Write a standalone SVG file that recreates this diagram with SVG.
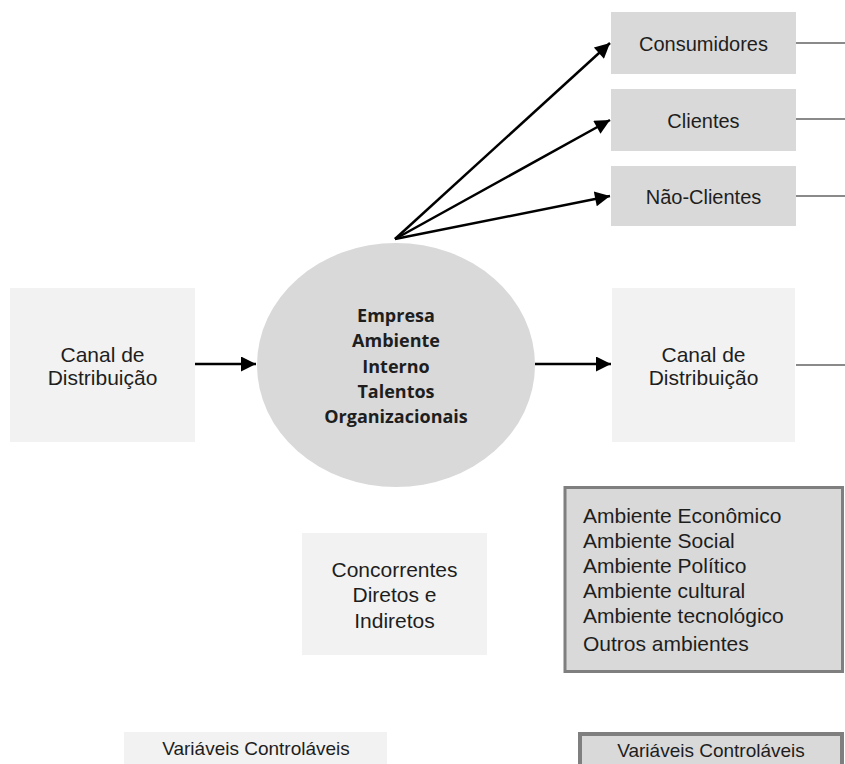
<svg xmlns="http://www.w3.org/2000/svg" width="845" height="764" viewBox="0 0 845 764">
<style>
.t{font-family:"Liberation Sans",Arial,sans-serif;font-size:20px;fill:#1e1e1e;text-anchor:middle}
.tl{font-family:"Liberation Sans",Arial,sans-serif;font-size:21px;fill:#1e1e1e}
.b{font-family:"Open Sans","DejaVu Sans",sans-serif;font-weight:bold;font-size:18px;fill:#1e1e1e;text-anchor:middle}
.light{fill:#f2f2f2}
.mid{fill:#d9d9d9}
.arr{stroke:#000;stroke-width:2.5;fill:none;marker-end:url(#ah)}
.gl{stroke:#8a8a8a;stroke-width:2;fill:none}
</style>
<defs>
<marker id="ah" viewBox="0 0 10 10" refX="10" refY="5" markerWidth="7" markerHeight="6" markerUnits="strokeWidth" orient="auto">
<path d="M0,0 L10,5 L0,10 z" fill="#000"/>
</marker>
</defs>
<rect width="845" height="764" fill="#fff"/>
<g id="connectors">
<line class="arr" x1="395" y1="239" x2="610" y2="43"/>
<line class="arr" x1="395" y1="239" x2="610" y2="120"/>
<line class="arr" x1="395" y1="239" x2="610" y2="196"/>
<line class="arr" x1="195" y1="364" x2="256" y2="364"/>
<line class="arr" x1="535" y1="364" x2="611" y2="364"/>
<line class="gl" x1="796" y1="43" x2="845" y2="43"/>
<line class="gl" x1="796" y1="119" x2="845" y2="119"/>
<line class="gl" x1="796" y1="196" x2="845" y2="196"/>
<line class="gl" x1="796" y1="365" x2="845" y2="365"/>
</g>
<g id="consumidores">
<rect class="mid" x="611" y="12" width="185" height="62"/>
<text class="t" x="703.5" y="51">Consumidores</text>
</g>
<g id="clientes">
<rect class="mid" x="611" y="89" width="185" height="62"/>
<text class="t" x="703.5" y="128">Clientes</text>
</g>
<g id="nao-clientes">
<rect class="mid" x="611" y="166" width="185" height="60"/>
<text class="t" x="703.5" y="204">Não-Clientes</text>
</g>
<g id="canal-esq">
<rect class="light" x="10" y="288" width="185" height="154"/>
<text class="t" x="102.5" y="362" style="font-size:21px">Canal de</text>
<text class="t" x="102.5" y="385" style="font-size:21px">Distribuição</text>
</g>
<g id="empresa">
<ellipse class="mid" cx="396" cy="365" rx="139" ry="122"/>
<text class="b" x="396" y="322">Empresa</text>
<text class="b" x="396" y="347">Ambiente</text>
<text class="b" x="396" y="373">Interno</text>
<text class="b" x="396" y="398">Talentos</text>
<text class="b" x="396" y="423">Organizacionais</text>
</g>
<g id="canal-dir">
<rect class="light" x="612" y="288" width="183" height="154"/>
<text class="t" x="703.5" y="362" style="font-size:21px">Canal de</text>
<text class="t" x="703.5" y="385" style="font-size:21px">Distribuição</text>
</g>
<g id="concorrentes">
<rect class="light" x="302" y="533" width="185" height="122"/>
<text class="t" x="394.5" y="577" style="font-size:21px">Concorrentes</text>
<text class="t" x="394.5" y="602" style="font-size:21px">Diretos e</text>
<text class="t" x="394.5" y="628" style="font-size:21px">Indiretos</text>
</g>
<g id="ambientes">
<rect x="565" y="487.5" width="277.5" height="184" fill="#d9d9d9" stroke="#7f7f7f" stroke-width="3"/>
<text class="tl" x="583" y="523">Ambiente Econômico</text>
<text class="tl" x="583" y="548">Ambiente Social</text>
<text class="tl" x="583" y="573">Ambiente Político</text>
<text class="tl" x="583" y="598">Ambiente cultural</text>
<text class="tl" x="583" y="623">Ambiente tecnológico</text>
<text class="tl" x="583" y="651">Outros ambientes</text>
</g>
<g id="var-esq">
<rect class="light" x="124" y="732" width="263" height="32"/>
<text class="t" x="256" y="755" style="font-size:19px">Variáveis Controláveis</text>
</g>
<g id="var-dir">
<rect x="580" y="734" width="262" height="32" fill="#d9d9d9" stroke="#7f7f7f" stroke-width="4"/>
<text class="t" x="711" y="757" style="font-size:19px">Variáveis Controláveis</text>
</g>
</svg>
